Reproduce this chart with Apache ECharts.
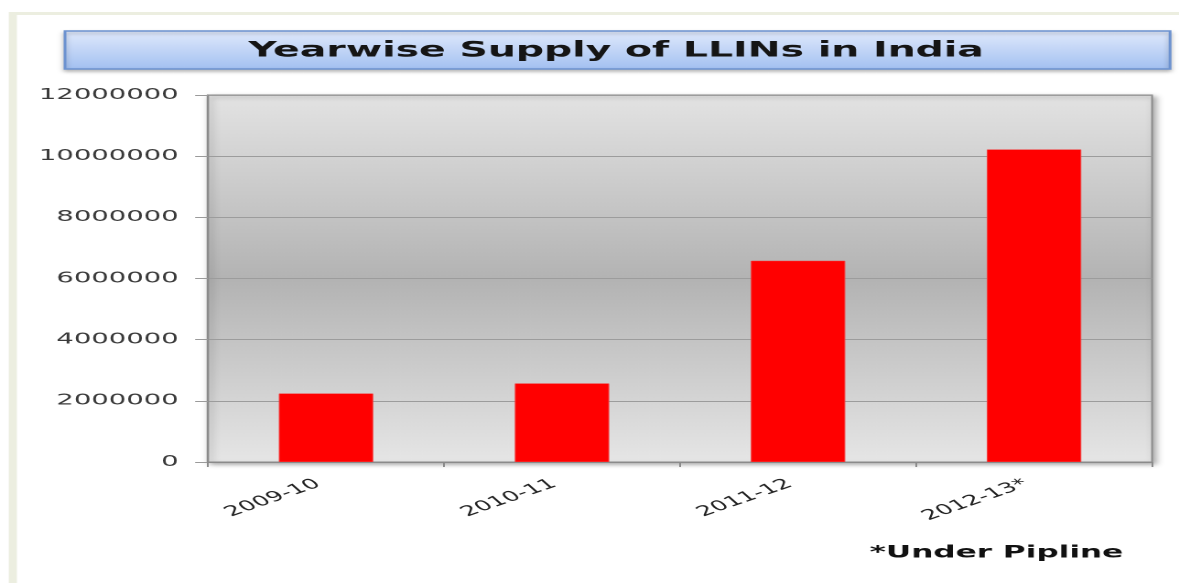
<!DOCTYPE html>
<html><head><meta charset="utf-8">
<script src="https://cdn.jsdelivr.net/npm/echarts@6/dist/echarts.min.js"></script>
<style>
html,body{margin:0;padding:0;background:#fff;overflow:hidden;width:1179px;height:583px}
#wrap{width:1179px;height:583px;overflow:hidden;position:relative}
#chart{width:644px;height:583px;transform:scaleX(1.83075);transform-origin:0 0}
</style></head><body><div id="wrap"><div id="chart"></div></div>
<script>
const titleText = 'Yearwise Supply of LLINs in India';
const noteText = '*Under Pipline';
const categories = ['2009-10', '2010-11', '2011-12', '2012-13*'];
const supplyValues = [2240000, 2570000, 6580000, 10220000];
const yMin = 0, yMax = 12000000, yInterval = 2000000;

const chart = echarts.init(document.getElementById('chart'), null, {renderer: 'canvas', devicePixelRatio: 2});
const font = 'DejaVu Sans';
chart.setOption({
  animation: false,
  backgroundColor: '#ffffff',
  grid: {
    left: 113.6, right: 14.7, top: 95, bottom: 121,
    show: true,
    backgroundColor: {type: 'linear', x: 0, y: 0, x2: 0, y2: 1, colorStops: [
      {offset: 0, color: '#e3e3e3'}, {offset: 0.5, color: '#b3b3b3'}, {offset: 1, color: '#e6e6e6'}]},
    borderColor: '#8c8c8c', borderWidth: 1,
    shadowColor: 'rgba(0,0,0,0.35)', shadowBlur: 4, shadowOffsetX: 1.5, shadowOffsetY: 2
  },
  graphic: [
    {type: 'rect', shape: {x: 5, y: 12, width: 645, height: 3}, style: {fill: '#eceee0'}, silent: true},
    {type: 'rect', shape: {x: 4.8, y: 12, width: 4.4, height: 575}, style: {fill: '#eceee0'}, silent: true},
    {type: 'rect', shape: {x: 35.5, y: 31, width: 603.6, height: 38},
      style: {fill: {type: 'linear', x: 0, y: 0, x2: 0, y2: 1, colorStops: [
        {offset: 0, color: '#e1eafc'}, {offset: 1, color: '#a2c0f1'}]},
        stroke: '#6c92d0', lineWidth: 1.5, shadowBlur: 3, shadowColor: 'rgba(0,0,0,0.25)', shadowOffsetY: 2}, silent: true},
    {type: 'text', x: 336.5, y: 51, style: {text: titleText, fontFamily: font, fontWeight: 'bold', fontSize: 21.5,
      fill: '#151515', textAlign: 'center', textVerticalAlign: 'middle'}},
    {type: 'text', x: 475, y: 553, style: {text: noteText, fontFamily: font, fontWeight: 'bold', fontSize: 17,
      fill: '#111', textAlign: 'left', textVerticalAlign: 'middle'}}
  ],
  xAxis: {
    type: 'category', data: categories,
    axisLine: {lineStyle: {color: '#8a8a8a', width: 1}},
    axisTick: {show: true, length: 5, lineStyle: {color: '#8a8a8a'}},
    axisLabel: {rotate: 32, fontFamily: font, fontSize: 14, color: '#222', margin: 18, padding: [0, 5, 0, 0]}
  },
  yAxis: {
    type: 'value', min: yMin, max: yMax, interval: yInterval,
    axisLine: {show: true, lineStyle: {color: '#8a8a8a', width: 1.2}},
    axisTick: {show: true, length: 7, lineStyle: {color: '#9a9a9a'}},
    axisLabel: {fontFamily: font, fontSize: 15, color: '#3a3a3a', margin: 16, formatter: v => String(v)},
    splitLine: {lineStyle: {color: '#9c9c9c', width: 1}}
  },
  series: [{
    type: 'bar', data: supplyValues, barWidth: '40%',
    itemStyle: {color: '#ff0000', borderColor: '#f43a3a', borderWidth: 0.5}
  }]
});
</script></body></html>
